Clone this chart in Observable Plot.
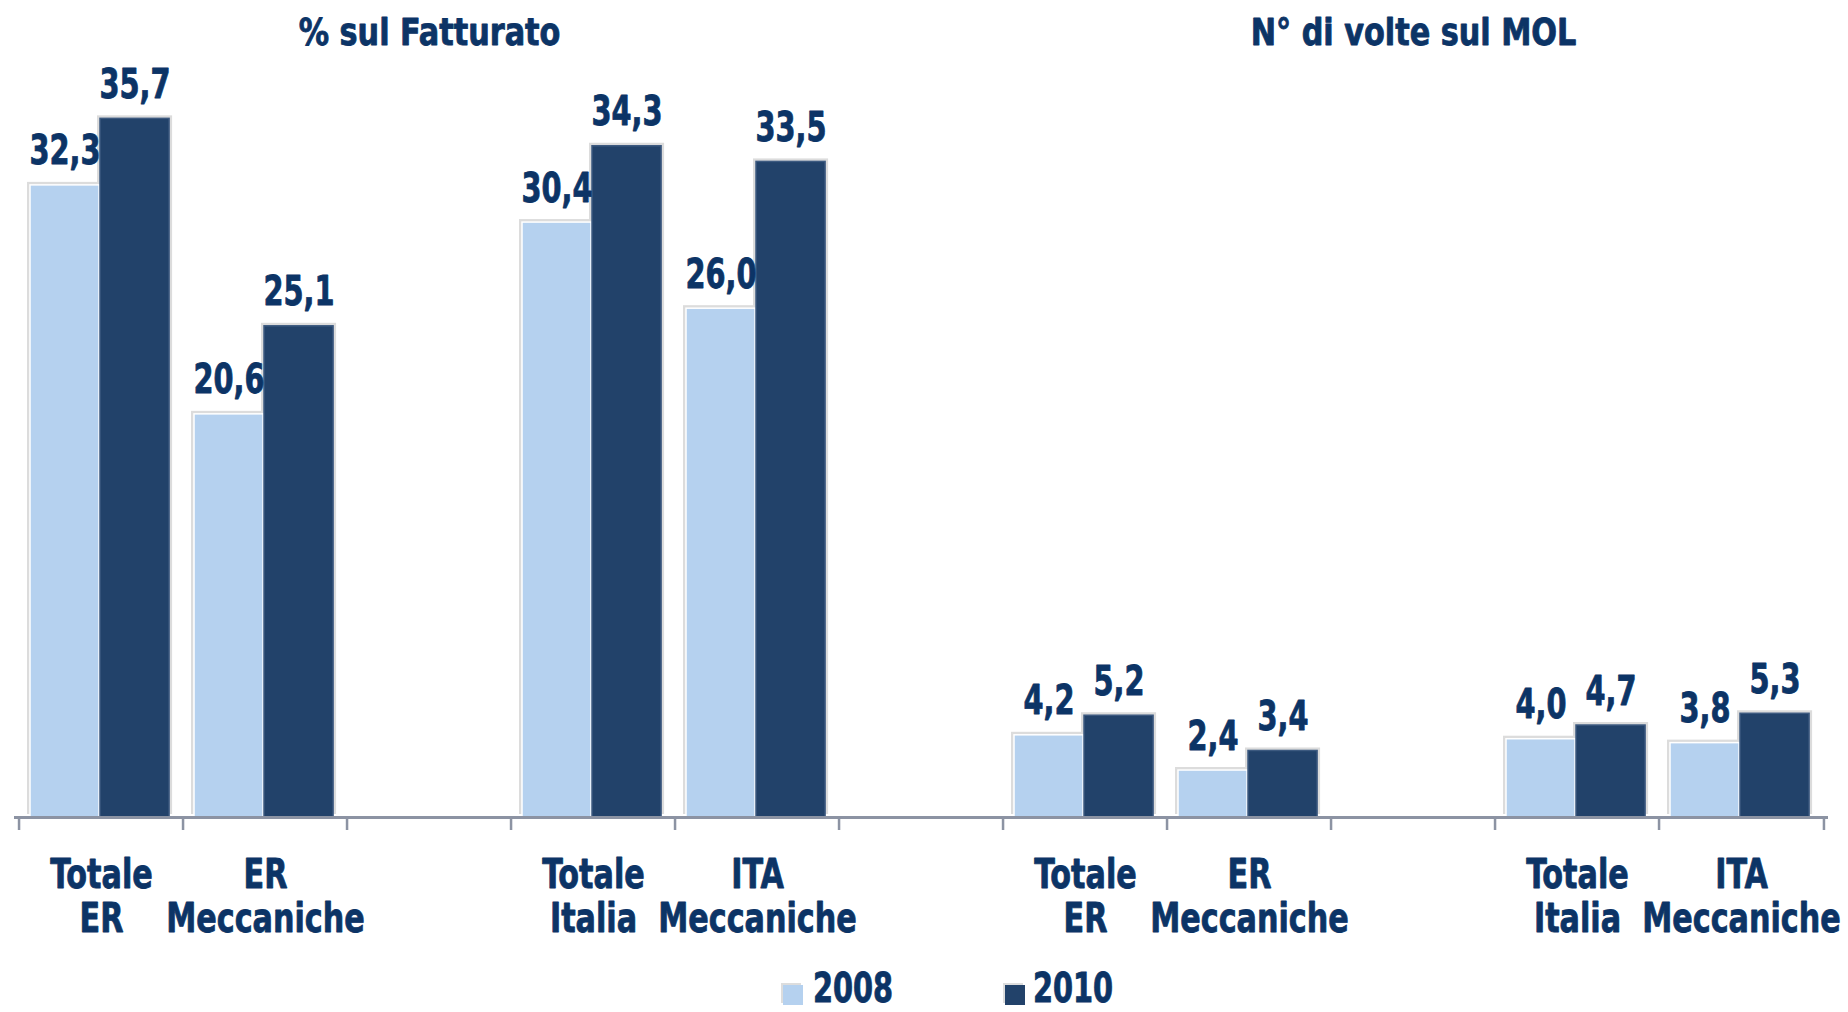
<!DOCTYPE html>
<html>
<head>
<meta charset="utf-8">
<script src="https://cdn.jsdelivr.net/npm/d3@7"></script>
<script src="https://cdn.jsdelivr.net/npm/@observablehq/plot@0.6"></script>
<style>
  html, body { margin: 0; padding: 0; background: #fff; overflow: hidden; }
  #wrap { position: relative; width: 1848px; height: 1012px; }
  #legend { position: absolute; left: 0; top: 968px; width: 1848px; height: 44px;
    font-family: "DejaVu Sans Condensed", "DejaVu Sans", sans-serif; font-weight: bold;
    font-size: 40px; color: #0c3466; -webkit-text-stroke: 0.8px #0c3466; }
  .item { position: absolute; top: 3px; height: 34px; line-height: 34px; transform: scaleX(0.8); transform-origin: left center; }
  .sw { position: absolute; width: 20px; height: 20px; top: 17px; box-shadow: -2px -2px 0 #ddd; }
</style>
</head>
<body>
<div id="wrap">
  <div id="chart"></div>
  <div id="legend"></div>
</div>
<script>
const slots = ["s1","s2","s3","s4","s5","s6","s7","s8","s9","s10","s11"];
const categories = ["Totale\nER","ER\nMeccaniche","","Totale\nItalia","ITA\nMeccaniche","","Totale\nER","ER\nMeccaniche","","Totale\nItalia","ITA\nMeccaniche"];
const v2008 = [32.3, 20.6, null, 30.4, 26.0, null, 4.2, 2.4, null, 4.0, 3.8];
const v2010 = [35.7, 25.1, null, 34.3, 33.5, null, 5.2, 3.4, null, 4.7, 5.3];
const years = ["2008", "2010"];
const colors = ["#b5d1ef", "#22426a"];
const groupTitles = [{slot: "s3", text: "% sul Fatturato"}, {slot: "s9", text: "N° di volte sul MOL"}];

const textColor = "#0c3466";
const font = "'DejaVu Sans Condensed', 'DejaVu Sans', sans-serif";

const rows = slots.map((s, i) => ({slot: s, cat: categories[i], a: v2008[i], b: v2010[i]}));
const barsA = rows.filter(d => d.a != null);
const barsB = rows.filter(d => d.b != null);
const fmt = v => v.toFixed(1).replace(".", ",");

const W = 1848, H = 968;
const x0 = 14, x1 = 1828;
const step = (x1 - x0) / slots.length;
const barW = 70, padL = 11;
const k = 19.57; // px per unit

const textStyle = {fontSize: 40, fontWeight: "bold", fontFamily: font, fill: textColor, stroke: textColor, strokeWidth: 0.8};

const chart = Plot.plot({
  width: W,
  height: H,
  marginLeft: x0,
  marginRight: W - x1,
  marginTop: 0,
  marginBottom: 0,
  x: {domain: slots, padding: 0, axis: null},
  y: {domain: [0, 817 / k], range: [817, 0], axis: null},
  marks: [
    Plot.barY(barsA, {x: "slot", y: "a", insetLeft: padL - 3, insetRight: step - padL - barW - 3, dy: -3, fill: "#dcdcdc"}),
    Plot.barY(barsB, {x: "slot", y: "b", insetLeft: padL + barW - 3, insetRight: step - padL - 2 * barW - 3, dy: -3, fill: "#dcdcdc"}),
    Plot.barY(barsA, {x: "slot", y: "a", insetLeft: padL, insetRight: step - padL - barW, fill: colors[0], stroke: "#ffffff", strokeWidth: 1.5}),
    Plot.barY(barsB, {x: "slot", y: "b", insetLeft: padL + barW, insetRight: step - padL - 2 * barW, fill: colors[1], stroke: "#3d5a80", strokeWidth: 1.5}),
    Plot.ruleY([0], {stroke: "#8c93a3", strokeWidth: 3}),
    Plot.ruleX(slots, {x: d => d, y1: 0, y2: -13 / k, dx: -step / 2, stroke: "#8c93a3", strokeWidth: 2.5}),
    Plot.ruleX([slots[slots.length - 1]], {x: d => d, y1: 0, y2: -13 / k, dx: step / 2, stroke: "#8c93a3", strokeWidth: 2.5}),
    Plot.text(barsA, {x: "slot", y: "a", text: d => fmt(d.a), dx: padL + barW / 2 - step / 2, dy: -21, lineAnchor: "bottom", ...textStyle}),
    Plot.text(barsB, {x: "slot", y: "b", text: d => fmt(d.b), dx: padL + 1.5 * barW - step / 2, dy: -21, lineAnchor: "bottom", ...textStyle}),
    Plot.text(rows, {x: "slot", y: 0, text: "cat", dy: 39, lineAnchor: "top", lineHeight: 1.1, ...textStyle}),
    Plot.text(groupTitles, {x: "slot", text: "text", frameAnchor: "top", dy: 18, lineAnchor: "top",
      ...textStyle, fontSize: 37})
  ]
});
document.getElementById("chart").appendChild(chart);

// condense the text horizontally, as in the reference's squeezed type
const textGroups = chart.querySelectorAll('g[aria-label="text"]');
const squeeze = [0.8, 0.8, 0.84, 0.91];
textGroups.forEach((g, i) => {
  g.querySelectorAll("text").forEach(t => {
    const tr = t.getAttribute("transform") || "";
    t.setAttribute("transform", tr + ` scale(${squeeze[i]},1)`);
  });
});

const legend = document.getElementById("legend");
const legendPos = [{sw: 783, tx: 813}, {sw: 1005, tx: 1033}];
years.forEach((y, i) => {
  const sw = document.createElement("div");
  sw.className = "sw";
  sw.style.left = legendPos[i].sw + "px";
  sw.style.background = colors[i];
  legend.appendChild(sw);
  const t = document.createElement("div");
  t.className = "item";
  t.style.left = legendPos[i].tx + "px";
  t.textContent = y;
  legend.appendChild(t);
});
</script>
</body>
</html>
